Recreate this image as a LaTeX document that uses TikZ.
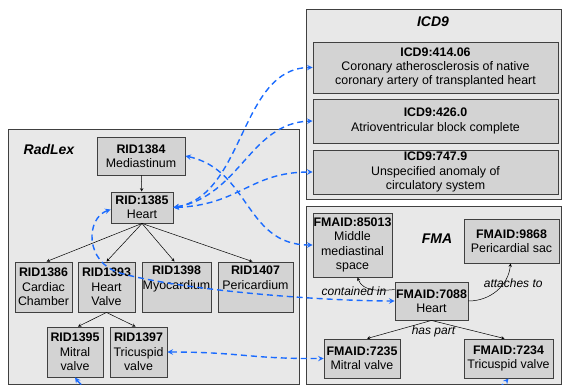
\documentclass[tikz,border=0pt]{standalone}
\usepackage{fontspec}
\setmainfont{Liberation Sans}
\usepackage{tikz}
\usetikzlibrary{shapes.geometric, arrows, positioning}
\definecolor{boxgray}{HTML}{D3D3D3}
\definecolor{panelgray}{HTML}{E8E8E8}
\definecolor{linegray}{HTML}{404040}
\definecolor{mapblue}{HTML}{1A6BFF}
\tikzstyle{panel} = [draw=linegray, fill=panelgray, line width=1pt]
\tikzstyle{graybox} = [rectangle, draw=linegray, fill=boxgray, line width=0.9pt, inner sep=0pt,
                       align=center, font=\fontsize{12.4}{14.3}\selectfont]
\tikzstyle{paneltitle} = [font=\fontsize{14}{16}\selectfont\bfseries\itshape]
\tikzstyle{arrow} = [->, >=stealth, line width=0.5pt, black]
\tikzstyle{maparrow} = [<->, >=stealth, dash pattern=on 6pt off 4pt, line width=1.4pt, draw=mapblue]
\tikzstyle{rellabel} = [font=\fontsize{12}{14}\selectfont\itshape, inner sep=1pt]

\begin{document}
\begin{tikzpicture}[x=1pt, y=-1pt]
  \useasboundingbox (0,0) rectangle (563,385);
  \clip (0,0) rectangle (563,385);

  % panels
  \draw [panel] (8,130) rectangle (299,384);
  \draw [panel] (306,10) rectangle (561,200);
  \draw [panel] (306,207) rectangle (561,384);
  \node (radlex) [paneltitle] at (49,150) {RadLex};
  \node (icd) [paneltitle] at (433,22) {ICD9};
  \node (fma) [paneltitle] at (437,239) {FMA};

  % RadLex
  \node (rid1384) [graybox, minimum width=88pt, minimum height=38pt] at (141,156) {\textbf{RID1384}\\Mediastinum};
  \node (rid1385) [graybox, minimum width=62pt, minimum height=31pt] at (142,207.5) {\textbf{RID:1385}\\Heart};
  \node (rid1386) [graybox, minimum width=57pt, minimum height=50pt] at (43.5,287) {\textbf{RID1386}\\Cardiac\\Chamber};
  \node (rid1393) [graybox, minimum width=57pt, minimum height=50pt] at (106.5,287) {\textbf{RID1393}\\Heart\\Valve};
  \node (rid1398) [graybox, minimum width=69pt, minimum height=50pt] at (176.5,287) {\textbf{RID1398}\\Myocardium\\\strut};
  \node (rid1407) [graybox, minimum width=75pt, minimum height=50pt] at (255.5,287) {\textbf{RID1407}\\Pericardium\\\strut};
  \node (rid1395) [graybox, minimum width=56pt, minimum height=50pt] at (75,352) {\textbf{RID1395}\\Mitral\\valve};
  \node (rid1397) [graybox, minimum width=57pt, minimum height=50pt] at (138.5,352) {\textbf{RID1397}\\Tricuspid\\valve};

  % ICD9
  \node (icd41406) [graybox, minimum width=245pt, minimum height=51pt] at (435.5,67.5) {\textbf{ICD9:414.06}\\Coronary atherosclerosis of native\\coronary artery of transplanted heart};
  \node (icd4260) [graybox, minimum width=245pt, minimum height=44pt] at (435.5,121) {\textbf{ICD9:426.0}\\Atrioventricular block complete};
  \node (icd7479) [graybox, minimum width=245pt, minimum height=44pt] at (435.5,172) {\textbf{ICD9:747.9}\\Unspecified anomaly of\\circulatory system};

  % FMA
  \node (fma85013) [graybox, minimum width=79pt, minimum height=64pt] at (352.5,245) {\textbf{FMAID:85013}\\Middle\\mediastinal\\space};
  \node (fma9868) [graybox, minimum width=95pt, minimum height=44pt] at (511.5,241) {\textbf{FMAID:9868}\\Pericardial sac};
  \node (fma7088) [graybox, minimum width=73pt, minimum height=38pt] at (431.5,301) {\textbf{FMAID:7088}\\Heart};
  \node (fma7235) [graybox, minimum width=76pt, minimum height=39pt] at (362,358.5) {\textbf{FMAID:7235}\\Mitral valve};
  \node (fma7234) [graybox, minimum width=89pt, minimum height=39pt] at (508.5,358.5) {\textbf{FMAID:7234}\\Tricuspid valve};

  % hierarchy
  \draw [arrow] (rid1384) -- (rid1385);
  \draw [arrow] (rid1385.south) -- ([xshift=3pt]rid1386.north);
  \draw [arrow] (rid1385.south) -- (rid1393.north);
  \draw [arrow] (rid1385.south) -- ([xshift=-2pt]rid1398.north);
  \draw [arrow] (rid1385.south) -- ([xshift=-3pt]rid1407.north);
  \draw [arrow] (rid1393.south) -- ([xshift=3pt]rid1395.north);
  \draw [arrow] (rid1393.south) -- ([xshift=-3pt]rid1397.north);

  \draw [arrow] ([yshift=-8pt]fma7088.north west) to[out=185, in=-70]
        node[rellabel, pos=0, left=7pt, yshift=-2pt] {contained in} ([xshift=5pt]fma85013.south);
  \draw [arrow] (fma7088.east) to[out=0, in=-95]
        node[rellabel, pos=0.6, xshift=12pt, yshift=3pt] {attaches to} ([xshift=-1pt]fma9868.south);
  \draw [arrow] (fma7088.south) -- node[rellabel, pos=0, below=4pt, xshift=2pt] {has part} ([xshift=5pt]fma7235.north);
  \draw [arrow] (fma7088.south) -- ([xshift=-4pt]fma7234.north);

  % mappings
  \draw [maparrow] (rid1385.east) .. controls (245,195) and (240,68) .. (icd41406.west);
  \draw [maparrow] (rid1385.east) .. controls (240,196) and (250,123) .. (icd4260.west);
  \draw [maparrow] (rid1385.east) .. controls (240,205) and (250,172) .. (icd7479.west);
  \draw [maparrow] (rid1384.east) .. controls (250,170) and (245,245) .. (fma85013.west);
  \draw [maparrow] ([yshift=-2pt]rid1385.west) .. controls (86,218) and (84,262) .. (120,273)
        .. controls (180,290) and (320,301) .. (fma7088.west);
  \draw [maparrow] (rid1397.east) .. controls (240,352) and (250,359) .. (fma7235.west);
  \draw [maparrow] (rid1395.south) .. controls (110,425) and (470,425) .. (fma7234.south);
\end{tikzpicture}
\end{document}
